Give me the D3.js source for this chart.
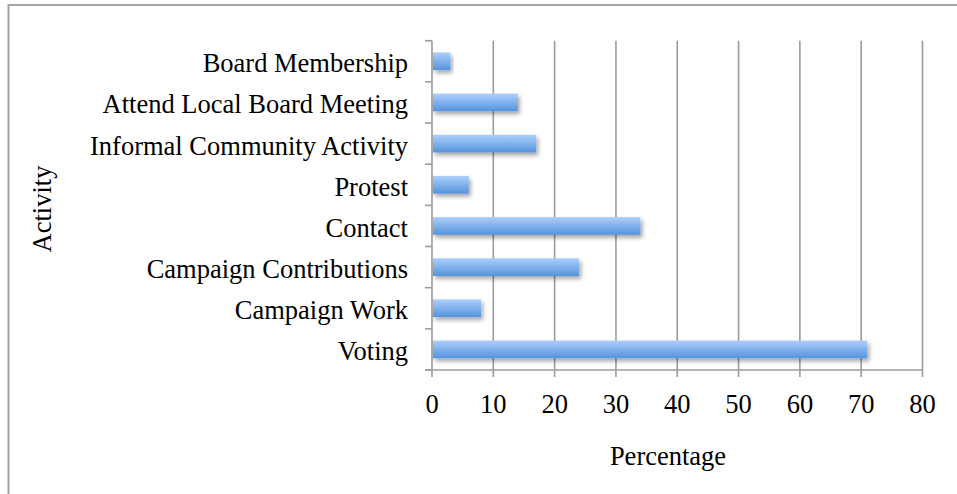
<!DOCTYPE html>
<html>
<head>
<meta charset="utf-8">
<script src="https://cdn.jsdelivr.net/npm/d3@7"></script>
<style>
  html, body { margin: 0; padding: 0; background: #fff; }
  svg { display: block; }
  text { font-family: "Liberation Serif", "Times New Roman", serif; fill: #000; }
</style>
</head>
<body>
<svg id="chart" width="957" height="494"></svg>
<script>
const categories = ["Board Membership", "Attend Local Board Meeting", "Informal Community Activity", "Protest", "Contact", "Campaign Contributions", "Campaign Work", "Voting"];
const values = [3, 14, 17, 6, 34, 24, 8, 71];
const xTicks = [0, 10, 20, 30, 40, 50, 60, 70, 80];
const xTitle = "Percentage";
const yTitle = "Activity";

(function () {
const svg = d3.select("#chart");
const pLeft = 432, pRight = 922.5, pTop = 40.7, pBottom = 370;
const fontSize = 26.5;
const gridColor = "#9c9c9c";

// outer border
svg.append("rect").attr("x", 8.5).attr("y", 5).attr("width", 960).attr("height", 500)
  .attr("fill", "none").attr("stroke", "#a3a3a3").attr("stroke-width", 2);

const defs = svg.append("defs");
const grad = defs.append("linearGradient").attr("id", "barGrad")
  .attr("x1", 0).attr("y1", 0).attr("x2", 0).attr("y2", 1);
grad.append("stop").attr("offset", "0%").attr("stop-color", "#abcffb");
grad.append("stop").attr("offset", "100%").attr("stop-color", "#5593dc");
const filt = defs.append("filter").attr("id", "shadow")
  .attr("x", "-10%").attr("y", "-30%").attr("width", "130%").attr("height", "190%");
filt.append("feDropShadow").attr("dx", 2).attr("dy", 3).attr("stdDeviation", 2.2)
  .attr("flood-color", "#000").attr("flood-opacity", 0.35);

const x = d3.scaleLinear().domain([0, 80]).range([pLeft, pRight]);
const y = d3.scaleBand().domain(categories).range([pTop, pBottom])
  .paddingInner(0.57).paddingOuter(0.285);

// gridlines (vertical) including tick extension below axis
svg.append("g").selectAll("line").data(xTicks.filter(d => d > 0)).join("line")
  .attr("x1", d => x(d)).attr("x2", d => x(d))
  .attr("y1", pTop).attr("y2", pBottom + 7)
  .attr("stroke", gridColor).attr("stroke-width", 1.6);

// y axis with ticks at band boundaries
const bounds = categories.map(c => y(c) - y.step() * y.paddingInner() / 2).concat([pBottom]);
svg.append("line").attr("x1", pLeft).attr("x2", pLeft).attr("y1", pTop).attr("y2", pBottom + 7)
  .attr("stroke", gridColor).attr("stroke-width", 1.6);
svg.append("g").selectAll("line").data(bounds).join("line")
  .attr("x1", pLeft - 7).attr("x2", pLeft).attr("y1", d => d).attr("y2", d => d)
  .attr("stroke", gridColor).attr("stroke-width", 1.6);

// x axis line
svg.append("line").attr("x1", pLeft - 7).attr("x2", pRight).attr("y1", pBottom).attr("y2", pBottom)
  .attr("stroke", gridColor).attr("stroke-width", 1.6);

// bars
svg.append("g").selectAll("rect").data(categories).join("rect")
  .attr("x", x(0) + 1)
  .attr("y", d => y(d))
  .attr("width", (d, i) => x(values[i]) - x(0) - 1)
  .attr("height", y.bandwidth())
  .attr("fill", "url(#barGrad)")
  .attr("filter", "url(#shadow)");

// category labels
svg.append("g").selectAll("text").data(categories).join("text")
  .attr("x", 408)
  .attr("y", d => y(d) + y.bandwidth() / 2 + 11)
  .attr("text-anchor", "end")
  .style("font-size", fontSize + "px")
  .text(d => d);

// x tick labels
svg.append("g").selectAll("text").data(xTicks).join("text")
  .attr("x", d => x(d))
  .attr("y", 413)
  .attr("text-anchor", "middle")
  .style("font-size", fontSize + "px")
  .text(d => d);

// axis titles
svg.append("text").attr("x", 668).attr("y", 465).attr("text-anchor", "middle")
  .style("font-size", fontSize + "px").text(xTitle);
svg.append("text").attr("transform", "translate(51,209) rotate(-90)").attr("text-anchor", "middle")
  .style("font-size", fontSize + "px").text(yTitle);
})();
</script>
</body>
</html>
